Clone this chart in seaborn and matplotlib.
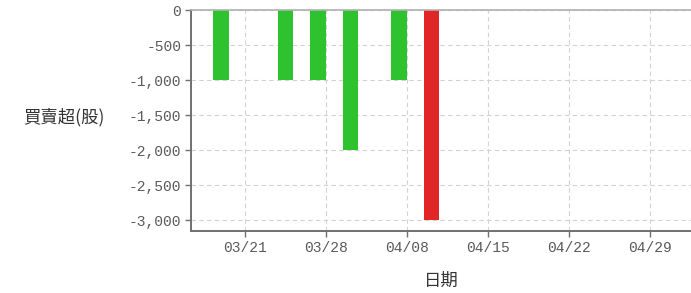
import matplotlib
matplotlib.use("Agg")
import matplotlib.pyplot as plt
import seaborn as sns
import pandas as pd

# trading-day position of each bar (03/21 = 0, 5 trading days per week)
day_pos = [-1.5, 2.5, 4.5, 6.5, 9.5, 11.5]
net_shares = [-1000, -1000, -1000, -2000, -1000, -3000]
bar_group = ["sell", "sell", "sell", "sell", "sell", "peak"]

tick_pos = [0, 5, 10, 15, 20, 25]
tick_labels = ["03/21", "03/28", "04/08", "04/15", "04/22", "04/29"]
y_ticks = [0, -500, -1000, -1500, -2000, -2500, -3000]

df = pd.DataFrame({"pos": day_pos, "shares": net_shares, "group": bar_group})

sns.set_theme(style="white")
plt.rcParams['font.family'] = ['Liberation Mono', 'DejaVu Sans']

fig = plt.figure(figsize=(6.91, 2.93), dpi=100)
ax = fig.add_axes([191 / 691, 62 / 293, 500 / 691, 221 / 293])

sns.barplot(
    data=df, x="pos", y="shares", hue="group",
    palette={"sell": "#2fc22f", "peak": "#e02626"},
    native_scale=True, dodge=False, width=0.484,
    saturation=1, legend=False, ax=ax, linewidth=0,
)

ax.set_xlim(-3.33, 27.5)
ax.set_ylim(-3157, 0)
ax.set_xticks(tick_pos)
ax.set_xticklabels(tick_labels)
ax.set_yticks(y_ticks)
ax.set_yticklabels([f"{v:,}" for v in y_ticks])

ax.grid(True, color="#d2d2d2", linestyle=(0, (4, 3)), linewidth=0.8)
ax.set_axisbelow(True)

for side in ["left", "bottom"]:
    ax.spines[side].set_color("#707070")
    ax.spines[side].set_linewidth(1.4)
ax.spines["top"].set_color("#b0b0b0")
ax.spines["top"].set_linewidth(1.2)
ax.spines["right"].set_visible(False)

ax.tick_params(axis="both", which="both", direction="out", length=4, width=1,
               color="#707070", labelsize=10.5, labelcolor="#5a5a5a", pad=3,
               left=True, bottom=True)

cjk = ['Noto Sans CJK TC', 'DejaVu Sans']
ax.set_xlabel("日期", family=cjk, fontsize=12.5, color="#333333")
ax.xaxis.set_label_coords(0.5, -0.185)
ax.set_ylabel("買賣超(股)", family=cjk, fontsize=12.5, color="#333333",
              rotation=0, ha="right", va="center")
ax.yaxis.set_label_coords(-0.172, 0.516)

fig.savefig("out.png", dpi=100)
